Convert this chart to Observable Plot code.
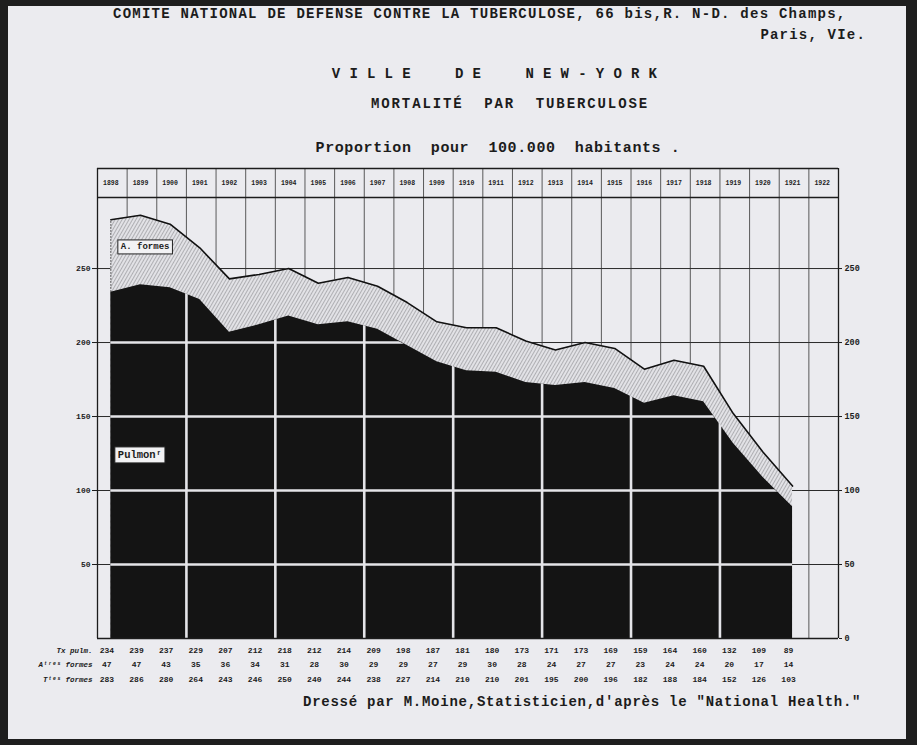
<!DOCTYPE html>
<html>
<head>
<meta charset="utf-8">
<script src="https://cdn.jsdelivr.net/npm/d3@7"></script>
<script src="https://cdn.jsdelivr.net/npm/@observablehq/plot@0.6"></script>
<style>
  html, body { margin: 0; padding: 0; }
  body { width: 917px; height: 745px; overflow: hidden; background: #1e1e1e; position: relative; }
  #paper { position: absolute; left: 8px; top: 6px; width: 898px; height: 733px; background: #ebebef; }
  .t { position: absolute; font-family: "Liberation Mono", "DejaVu Sans Mono", monospace; color: #1c1c1c; white-space: pre; }
  #chart { position: absolute; left: 0; top: 160px; }
</style>
</head>
<body>
<div id="paper"></div>
<div class="t" style="left:113px; top:6px; font-size:14px; letter-spacing:1.25px; font-weight:bold;">COMITE NATIONAL DE DEFENSE CONTRE LA TUBERCULOSE, 66 bis,R. N-D. des Champs,</div>
<div class="t" style="left:600px; width:266px; text-align:right; top:27px; font-size:14px; letter-spacing:1.2px; font-weight:bold;">Paris, VIe.</div>
<div class="t" style="left:299px; width:400px; text-align:center; top:66px; font-size:14px; letter-spacing:9.2px; font-weight:bold;">VILLE  DE  NEW-YORK</div>
<div class="t" style="left:310px; width:400px; text-align:center; top:96px; font-size:14px; letter-spacing:1.9px; font-weight:bold;">MORTALITÉ  PAR  TUBERCULOSE</div>
<div class="t" style="left:298px; width:400px; text-align:center; top:140px; font-size:15px; letter-spacing:0.6px; font-weight:bold;">Proportion  pour  100.000  habitants .</div>
<div id="chart"></div>
<div class="t" style="left:303px; top:694px; font-size:14px; letter-spacing:0.75px; font-weight:bold;">Dressé par M.Moine,Statisticien,d'après le "National Health."</div>
<script>
// ---- Data ----
const years = [1898,1899,1900,1901,1902,1903,1904,1905,1906,1907,1908,1909,1910,1911,1912,1913,1914,1915,1916,1917,1918,1919,1920,1921];
const pulmonaire   = [234,239,237,229,207,212,218,212,214,209,198,187,181,180,173,171,173,169,159,164,160,132,109,89];
const autresFormes = [47,47,43,35,36,34,31,28,30,29,29,27,29,30,28,24,27,27,23,24,24,20,17,14];
const toutesFormes = [283,286,280,264,243,246,250,240,244,238,227,214,210,210,201,195,200,196,182,188,184,152,126,103];
const headerYears = [1898,1899,1900,1901,1902,1903,1904,1905,1906,1907,1908,1909,1910,1911,1912,1913,1914,1915,1916,1917,1918,1919,1920,1921,1922];
const yTicks = [0,50,100,150,200,250];
const rowLabels = ["Tx pulm.", "Aᵗʳᵉˢ formes", "Tᵗᵉˢ formes"];
const seriesLabels = ["A. formes", "Pulmonʳ"];

const rows = years.map((year, i) => ({year, pulm: pulmonaire[i], autres: autresFormes[i], total: toutesFormes[i]}));

// layout helpers (positions, not data)
const xLeft = 1897.55, xRight = 1922.55;
const yTop = 317.6, yHeader = 298;
const colBounds = d3.range(0, headerYears.length + 1).map(k => xLeft + k);
const whiteCols = colBounds.filter((_, k) => k % 3 === 0 && k > 0 && k < headerYears.length);
const mono = "'Liberation Mono', 'DejaVu Sans Mono', monospace";
const ink = "#1c1c1c";

const plot = Plot.plot({
  width: 917,
  height: 560,
  marginLeft: 97,
  marginRight: 79,
  marginTop: 8,
  marginBottom: 82,
  x: {domain: [xLeft, xRight], axis: null},
  y: {domain: [0, yTop], axis: null},
  style: {background: "transparent", fontFamily: mono, color: ink, overflow: "visible"},
  marks: [
    // black grid (visible on white paper)
    Plot.ruleY(yTicks.filter(v => v > 0), {stroke: "#2a2a2a", strokeWidth: 1}),
    Plot.ruleX(colBounds, {y1: 0, y2: yTop, stroke: "#333", strokeWidth: 0.8}),
    Plot.ruleY([yHeader], {stroke: ink, strokeWidth: 1.3}),
    Plot.ruleY([yTop], {stroke: ink, strokeWidth: 1.6}),
    // areas
    Plot.areaY(rows, {x: "year", y: "total", fill: "url(#hatch)", className: "total-area"}),
    Plot.lineY(rows, {x: "year", y: "total", stroke: "#111", strokeWidth: 1.6}),
    Plot.ruleX(rows.slice(0, 1), {x: "year", y1: "pulm", y2: "total", stroke: "#444", strokeWidth: 1, strokeDasharray: "1.5,1.5"}),
    Plot.areaY(rows, {x: "year", y: "pulm", fill: "#141414", className: "pulm-area"}),
    // white grid on the black area
    Plot.ruleY(yTicks.filter(v => v > 0 && v < 250), {stroke: "#e4e4e8", strokeWidth: 2.6, className: "white-grid"}),
    Plot.ruleX(whiteCols, {y1: 0, y2: 300, stroke: "#e4e4e8", strokeWidth: 2.6, className: "white-grid"}),
    // frame
    Plot.ruleY([0], {stroke: ink, strokeWidth: 1.6}),
    Plot.ruleX([xLeft, xRight], {y1: 0, y2: yTop, stroke: ink, strokeWidth: 1.3}),
    // axes
    Plot.axisY(yTicks.filter(v => v > 0), {anchor: "left", tickSize: 5, tickPadding: 2, fontSize: 8, fontWeight: "bold", label: null}),
    Plot.axisY(yTicks, {anchor: "right", tickSize: 3, tickPadding: 3, fontSize: 8.5, fontWeight: "bold", label: null}),
    // header years
    Plot.text(headerYears, {x: d => d, y: 307.8, text: d => String(d), fontSize: 6.5, fontWeight: "bold"}),
    // series labels
    Plot.text(seriesLabels.slice(0, 1), {x: () => 1898, y: 265.2, dx: 10, text: d => d, textAnchor: "start", fontSize: 9, fontWeight: "bold", className: "boxlabel"}),
    Plot.text(seriesLabels.slice(1, 2), {x: () => 1898, y: 124.3, dx: 7, text: d => d, textAnchor: "start", fontSize: 10.5, fontWeight: "bold", className: "boxlabel"}),
    // bottom table
    Plot.text(rows, {x: "year", y: -8.1, dx: -4, text: d => String(d.pulm), fontSize: 8, fontWeight: "bold"}),
    Plot.text(rows, {x: "year", y: -17.6, dx: -4, text: d => String(d.autres), fontSize: 8, fontWeight: "bold"}),
    Plot.text(rows, {x: "year", y: -27.7, dx: -4, text: d => String(d.total), fontSize: 8, fontWeight: "bold"}),
    Plot.text(rowLabels, {x: () => xLeft, y: (d, i) => [-8.1, -17.6, -27.7][i], dx: -5, text: d => d, textAnchor: "end", fontSize: 7.5, fontWeight: "bold", fontStyle: "italic"})
  ]
});

document.getElementById("chart").appendChild(plot);

// pattern + clip post-processing
const svg = d3.select(plot);
const defs = svg.insert("defs", ":first-child");
const pat = defs.append("pattern").attr("id", "hatch").attr("patternUnits", "userSpaceOnUse")
  .attr("width", 3).attr("height", 10).attr("patternTransform", "rotate(30)");
pat.append("rect").attr("width", 3).attr("height", 10).attr("fill", "#e2e2e6");
pat.append("line").attr("x1", 0.5).attr("x2", 0.5).attr("y1", 0).attr("y2", 10).attr("stroke", "#9a9a9e").attr("stroke-width", 0.7);

let pulmPath = svg.select("g.pulm-area path");
if (pulmPath.empty()) { const areas = svg.selectAll("g[aria-label=area] path").nodes(); pulmPath = d3.select(areas[areas.length - 1]); }
defs.append("clipPath").attr("id", "pulmclip").append("path").attr("d", pulmPath.attr("d"));
svg.selectAll("g.white-grid").attr("clip-path", "url(#pulmclip)");

svg.selectAll("g.boxlabel text").each(function() {
  const b = this.getBBox();
  d3.select(this.parentNode).insert("rect", () => this)
    .attr("x", b.x - 3).attr("y", b.y - 2).attr("width", b.width + 6).attr("height", b.height + 4)
    .attr("transform", this.getAttribute("transform"))
    .attr("fill", "#f2f2f4").attr("stroke", "#222").attr("stroke-width", 1);
});
</script>
</body>
</html>
